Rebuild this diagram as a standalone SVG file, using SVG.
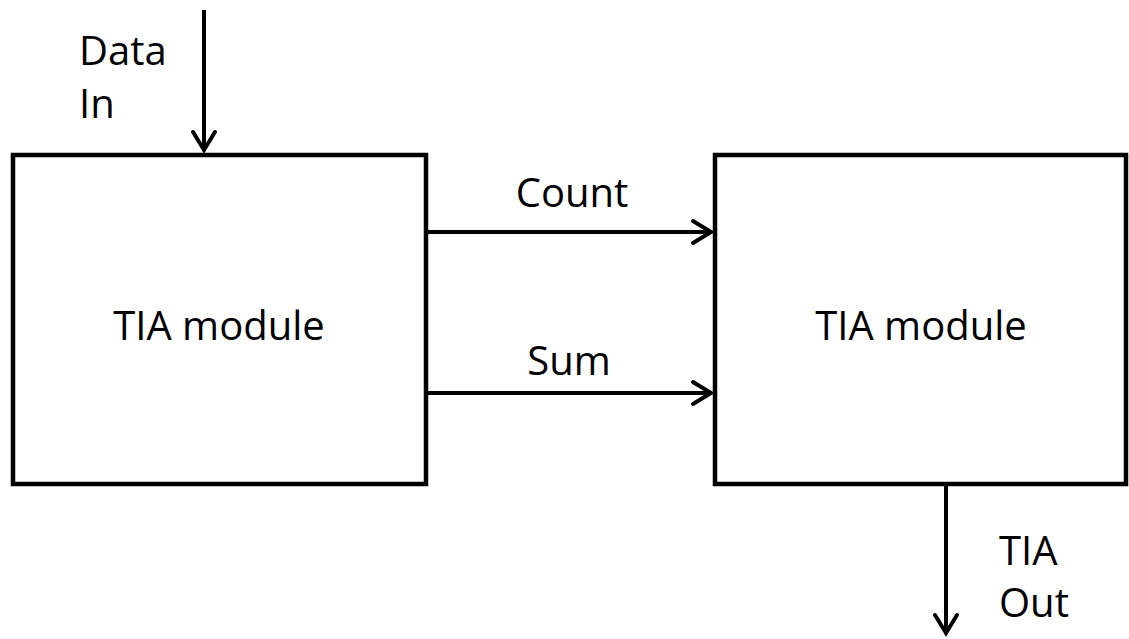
<svg xmlns="http://www.w3.org/2000/svg" width="1129" height="639" viewBox="0 0 1129 639">
  <style>
    .box { fill: #ffffff; stroke: #000000; stroke-width: 4.5; }
    .wire { fill: none; stroke: #000000; stroke-width: 4; }
    .lbl { font-family: "Open Sans", "Noto Sans", sans-serif; font-size: 40px; fill: #000000; }
  </style>
  <defs>
    <!-- open chevron arrowhead, sized in user units -->
    <marker id="arrow" viewBox="0 0 26 28" refX="22" refY="14" markerWidth="26" markerHeight="28" markerUnits="userSpaceOnUse" orient="auto">
      <path d="M3,3 L21,14 L3,25" fill="none" stroke="#000000" stroke-width="4" stroke-linejoin="miter" stroke-linecap="round"/>
    </marker>
  </defs>
  <rect width="1129" height="639" fill="#ffffff"/>

  <g id="module-left">
    <rect class="box" x="13" y="155" width="413" height="329"/>
    <text class="lbl" x="219" y="340" text-anchor="middle">TIA module</text>
  </g>

  <g id="module-right">
    <rect class="box" x="715" y="155" width="411" height="329"/>
    <text class="lbl" x="921" y="340" text-anchor="middle">TIA module</text>
  </g>

  <g id="connectors">
    <line class="wire" x1="204" y1="10" x2="204" y2="151" marker-end="url(#arrow)"/>
    <line class="wire" x1="428" y1="232" x2="712" y2="232" marker-end="url(#arrow)"/>
    <line class="wire" x1="428" y1="393" x2="712" y2="393" marker-end="url(#arrow)"/>
    <line class="wire" x1="946" y1="486" x2="946" y2="634" marker-end="url(#arrow)"/>
  </g>

  <g id="labels">
    <text class="lbl" x="79" y="65">Data</text>
    <text class="lbl" x="79" y="118">In</text>
    <text class="lbl" x="572" y="207" text-anchor="middle">Count</text>
    <text class="lbl" x="569" y="375" text-anchor="middle">Sum</text>
    <text class="lbl" x="999" y="565">TIA</text>
    <text class="lbl" x="999" y="617">Out</text>
  </g>
</svg>
